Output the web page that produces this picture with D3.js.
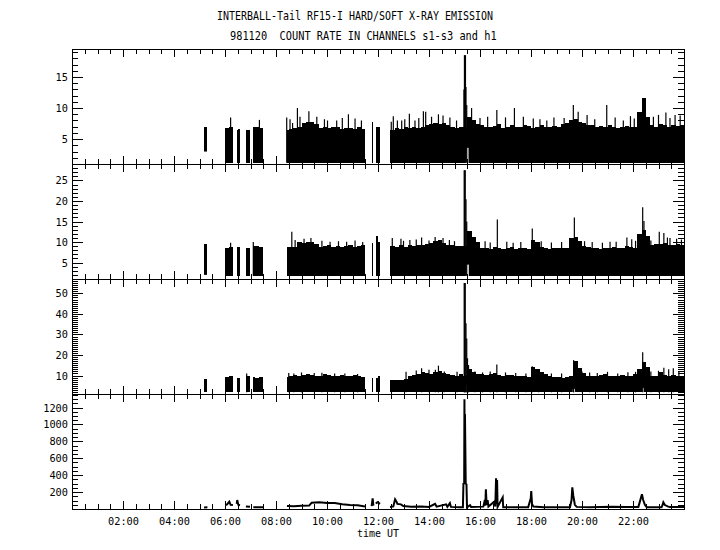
<!DOCTYPE html>
<html>
<head>
<meta charset="utf-8">
<script src="https://cdn.jsdelivr.net/npm/d3@7"></script>
<style>
body { margin: 0; background: #fff; }
svg { display: block; }
text { font-family: "DejaVu Sans Mono", monospace; fill: #000; white-space: pre; }
</style>
</head>
<body>
<svg id="chart" width="720" height="550"></svg>
<script>
// ---- data ----
var titleLines = ["INTERBALL-Tail RF15-I HARD/SOFT X-RAY EMISSION",
                  "981120  COUNT RATE IN CHANNELS s1-s3 and h1"];
var xLabel = "time UT";
var hourTicks = [0, 2, 4, 6, 8, 10, 12, 14, 16, 18, 20, 22, 24];

// hours with telemetry (same for all channels)
var segments = [[5.18, 5.31], [6.01, 6.31], [6.46, 6.59], [6.82, 6.98], [7.11, 7.49],
                [8.43, 11.49], [11.75, 11.82], [11.91, 12.08], [12.47, 24]];

// upper envelope in 10 minute bins, first bin starts at 05:00 (one row = one hour)
var s1Hi = [
  null, 6.9, null, null, null, null,
  6.8, 7.0, 6.5, 6.6, 6.7, 6.5,
  7.0, 7.0, 6.8, null, null, null,
  null, null, 6.5, 6.6, 6.8, 7.0,
  7.6, 7.8, 7.8, 7.4, 6.8, 7.0,
  6.8, 6.9, 7.0, 6.6, 6.8, 6.8,
  6.6, 6.9, 6.7, null, 7.8, 6.9,
  6.9, null, 6.5, 6.5, 6.8, 6.7,
  6.9, 6.8, 7.0, 6.8, 7.0, 7.2,
  7.5, 7.6, 7.4, 7.6, 7.2, 7.0,
  6.8, 6.9, 7.0, 8.5, 8.0, 7.5,
  7.3, 7.0, 6.9, 7.1, 7.4, 6.8,
  7.0, 7.2, 6.9, 7.0, 7.3, 7.1,
  6.8, 7.0, 7.2, 6.9, 7.0, 7.1,
  6.9, 7.4, 7.6, 8.0, 8.2, 7.8,
  7.6, 7.3, 7.2, 7.0, 7.1, 6.9,
  7.3, 7.0, 6.8, 7.0, 7.1, 6.9,
  7.0, 9.4, 11.6, 8.5, 7.2, 7.0,
  7.4, 7.2, 7.0, 7.3, 7.1, 7.2
];
var s2Hi = [
  null, 9.5, null, null, null, null,
  8.5, 8.7, 8.7, 8.7, 8.5, 8.5,
  9.0, 9.0, 8.8, null, null, null,
  null, null, 8.9, 8.9, 8.9, 10.0,
  9.8, 10.1, 9.9, 9.6, 8.8, 9.0,
  9.3, 8.9, 9.0, 8.7, 9.1, 9.2,
  8.8, 9.0, 9.3, null, 9.7, 11.5,
  10.0, null, 9.0, 9.0, 8.8, 9.2,
  8.9, 9.3, 9.0, 9.2, 9.4, 9.5,
  9.8, 10.2, 10.4, 9.8, 9.4, 9.2,
  9.0, 9.1, 9.0, 12.7, 11.3, 10.1,
  8.5, 8.6, 8.4, 8.8, 8.6, 8.3,
  8.5, 8.7, 8.4, 8.6, 8.5, 8.3,
  10.5, 10.0, 8.7, 8.5, 8.4, 8.6,
  8.5, 8.5, 8.6, 11.0, 11.3, 10.2,
  9.0, 8.7, 8.6, 8.5, 8.4, 8.6,
  8.5, 8.8, 8.6, 8.5, 9.0, 8.7,
  8.6, 12.0, 13.0, 11.5, 9.3, 9.6,
  9.5, 9.8, 9.4, 9.2, 9.5, 9.3
];
var s3Hi = [
  null, 8.3, null, null, null, null,
  9.4, 9.6, 9.0, 9.0, 10.6, 10.0,
  9.4, 9.0, 9.2, null, null, null,
  null, null, 9.5, 9.8, 10.2, 10.0,
  10.4, 10.6, 10.2, 10.0, 9.8, 10.5,
  10.1, 9.7, 10.0, 10.2, 9.6, 9.9,
  10.1, 9.8, 9.5, null, 8.6, 8.6,
  9.8, null, 7.8, 7.8, 8.0, 7.8,
  8.2, 10.0, 10.2, 10.5, 11.5, 11.0,
  10.5, 11.8, 12.0, 11.2, 10.5, 10.2,
  10.0, 10.5, 10.0, 13.0, 11.9, 10.8,
  10.5, 10.2, 10.8, 11.0, 10.3, 10.0,
  10.4, 10.2, 9.8, 10.0, 9.6, 9.5,
  14.3, 13.0, 11.5, 10.8, 9.6, 9.4,
  9.2, 9.0, 9.5, 10.0, 17.0, 13.5,
  11.0, 10.0, 9.8, 9.6, 10.2, 10.5,
  10.0, 9.6, 9.8, 10.1, 9.7, 10.0,
  10.8, 13.0, 16.7, 14.0, 9.6, 10.0,
  11.5, 10.2, 9.8, 10.4, 9.6, 9.4
];

// single high samples [hour, count rate]
var s1Spikes = [[6.22, 8.5], [7.35, 8.1], [8.42, 8.5], [8.55, 8.2], [8.65, 7.6], [8.84, 10.0],
  [8.94, 8.6], [9.29, 9.5], [9.6, 8.6], [9.9, 8.2], [10.02, 8.0], [10.38, 8.0], [10.6, 8.4],
  [10.84, 9.0], [11.1, 8.3], [11.35, 8.0], [12.52, 7.8], [12.6, 8.7], [12.76, 8.0], [12.93, 8.0],
  [13.05, 8.2], [13.23, 9.1], [13.45, 8.0], [13.6, 8.4], [13.78, 9.5], [13.87, 9.4], [14.1, 8.6],
  [14.37, 9.0], [14.55, 8.8], [14.82, 8.5], [15.08, 8.0],
  [15.37, 13.0], [15.39, 18.5], [15.41, 18.5], [15.43, 18.5], [15.45, 13.4], [15.48, 10.5],
  [15.67, 10.0], [16.0, 8.4], [16.3, 8.6], [16.66, 9.7], [17.0, 8.5], [17.35, 10.0], [17.7, 8.6],
  [18.09, 8.3], [18.35, 8.2], [18.62, 8.0], [18.9, 8.5], [19.3, 8.4], [19.66, 10.5], [19.85, 9.4],
  [20.2, 8.9], [20.5, 8.2], [20.97, 10.5], [21.3, 8.5], [21.62, 8.0], [21.9, 8.7], [22.05, 8.3],
  [22.8, 8.6], [23.0, 8.9], [23.29, 9.3], [23.45, 8.4], [23.65, 8.9], [23.85, 8.8]];
var s2Spikes = [[6.22, 9.8], [7.11, 10.0], [8.62, 12.5], [8.75, 10.5], [9.1, 10.8], [9.37, 11.0],
  [9.8, 10.3], [10.12, 10.1], [10.45, 10.2], [10.77, 10.1], [11.1, 10.4], [11.4, 10.0],
  [12.56, 11.0], [12.9, 10.8], [13.0, 10.3], [13.25, 10.5], [13.5, 10.6], [13.71, 11.1],
  [14.0, 10.4], [14.24, 11.2], [14.55, 11.0], [14.8, 10.5], [15.0, 10.2],
  [15.38, 27.5], [15.40, 27.5], [15.42, 27.5], [15.45, 20.4], [15.48, 15.0],
  [15.9, 10.0], [16.2, 10.2], [16.4, 9.9], [16.68, 15.5], [17.05, 10.1], [17.3, 9.8], [17.6, 10.0],
  [18.05, 13.3], [18.4, 10.2], [18.8, 9.9], [19.2, 10.0], [19.70, 16.0], [20.1, 10.2], [20.4, 10.0],
  [20.8, 9.8], [21.1, 10.1], [21.34, 10.1], [21.76, 11.1], [21.95, 10.7], [22.1, 10.3],
  [22.38, 18.5], [22.43, 15.1], [22.7, 10.4], [23.03, 12.5], [23.21, 12.2], [23.35, 11.1],
  [23.45, 11.0], [23.71, 10.8], [23.9, 10.6]];
var s3Spikes = [[6.85, 11.0], [8.5, 11.2], [8.7, 11.0], [9.0, 11.5], [9.5, 11.2], [9.8, 11.3],
  [10.3, 11.0], [10.7, 11.0], [11.2, 10.8], [13.1, 11.8], [13.5, 12.5], [13.71, 13.5], [14.0, 12.8],
  [14.25, 12.8], [14.37, 14.8], [14.6, 12.0], [15.1, 11.8],
  [15.38, 55.0], [15.40, 55.0], [15.42, 55.0], [15.45, 35.4], [15.48, 28.0],
  [15.51, 18.4], [15.55, 15.1], [15.8, 12.0], [16.1, 11.5], [16.4, 12.0], [16.66, 15.4],
  [17.0, 11.5], [17.4, 11.2], [17.8, 11.0], [18.05, 14.5], [18.3, 12.0], [18.8, 11.0], [19.2, 11.0],
  [19.67, 17.5], [20.0, 12.0], [20.3, 11.5], [20.6, 11.2], [21.0, 11.8], [21.4, 11.0], [21.8, 11.6],
  [22.1, 11.8], [22.38, 21.3], [22.7, 12.0], [23.0, 12.3], [23.21, 13.8], [23.4, 13.0],
  [23.58, 13.5], [23.8, 12.0]];

// lowest count rate in the band, and intervals where the floor lifts [from, to, value]
var s1Lo = 1.2, s2Lo = 1.8, s3Lo = 1.8;
var s1Raise = [[5.17, 5.33, 3.0], [15.44, 15.55, 3.6]];
var s2Raise = [[5.17, 5.33, 2.0], [15.44, 15.56, 4.5]];
var s3Raise = [[5.17, 5.33, 1.5], [15.44, 15.53, 5.5], [19.64, 19.72, 3.5], [22.36, 22.42, 4.0]];

// hard channel h1, [hour, count rate], null = data gap
var h1Points = [
  [5.18, 18], [5.31, 20], null,
  [6.01, 45], [6.08, 55], [6.17, 87], [6.22, 50], [6.31, 48], null,
  [6.46, 60], [6.48, 106], [6.52, 50], [6.59, 45], null,
  [6.82, 30], [6.98, 28], null,
  [7.11, 20], [7.3, 22], [7.49, 20], null,
  [8.43, 35], [8.7, 32], [9.0, 38], [9.3, 40], [9.4, 75], [9.7, 80], [10.0, 72], [10.3, 70],
  [10.6, 55], [10.9, 48], [11.2, 45], [11.49, 30], null,
  [11.75, 35], [11.79, 126], [11.82, 40], null,
  [11.91, 65], [11.98, 80], [12.08, 60], null,
  [12.47, 25], [12.6, 30], [12.67, 114], [12.72, 90], [12.76, 60], [12.9, 55], [12.99, 35],
  [13.3, 28], [13.7, 30], [14.0, 25], [14.24, 60], [14.3, 28], [14.67, 55], [14.72, 25],
  [14.82, 70], [14.86, 25], [15.22, 22], [15.33, 22],
  [15.35, 300], [15.38, 305], [15.39, 1297], [15.40, 420], [15.41, 1123], [15.44, 300],
  [15.47, 290], [15.49, 20],
  [15.61, 45], [15.65, 25], [16.13, 28], [16.19, 106], [16.21, 40], [16.23, 233], [16.26, 50],
  [16.30, 106], [16.33, 30], [16.56, 87], [16.6, 30], [16.63, 363], [16.65, 60], [16.67, 343],
  [16.69, 25], [16.89, 138], [16.91, 20], [17.5, 22], [17.89, 20], [17.99, 126], [18.01, 213],
  [18.04, 60], [18.09, 30], [18.5, 22], [19.0, 20], [19.53, 22], [19.59, 106], [19.62, 256],
  [19.66, 154], [19.72, 50], [19.79, 25], [20.3, 20], [20.71, 25], [21.2, 28], [21.75, 25],
  [22.21, 25], [22.27, 87], [22.35, 174], [22.40, 106], [22.47, 47], [22.54, 22], [23.12, 20],
  [23.16, 47], [23.19, 79], [23.25, 47], [23.38, 28], [23.45, 25], [24.0, 25]
];

// y axes
var s1Domain = [1, 19.5], s1Major = [5, 10, 15];
var s2Domain = [1, 29],   s2Major = [5, 10, 15, 20, 25];
var s3Domain = [1, 57],   s3Major = [10, 20, 30, 40, 50];
var h1Domain = [0, 1360], h1Major = [200, 400, 600, 800, 1000, 1200];

// ---- layout ----
var left = 72, right = 684;
var panelTop = [49, 164, 279, 394], panelH = 115;
var binStart = 5, binWidth = 1 / 6;

var svg = d3.select("#chart");
svg.append("rect").attr("width", 720).attr("height", 550).attr("fill", "#fff");

var x = d3.scaleLinear().domain([0, 24]).range([left, right]);

var panels = [
  {hi: s1Hi, spikes: s1Spikes, lo: s1Lo, raise: s1Raise, domain: s1Domain, major: s1Major, minor: 1},
  {hi: s2Hi, spikes: s2Spikes, lo: s2Lo, raise: s2Raise, domain: s2Domain, major: s2Major, minor: 1},
  {hi: s3Hi, spikes: s3Spikes, lo: s3Lo, raise: s3Raise, domain: s3Domain, major: s3Major, minor: 1},
  {line: h1Points, domain: h1Domain, major: h1Major, minor: 50}
];

function condense(sel, w) {
  sel.attr("textLength", function() { return this.textContent.length * w; })
     .attr("lengthAdjust", "spacingAndGlyphs");
}

panels.forEach(function(p, i) {
  var top = panelTop[i], bottom = top + panelH;
  var y = d3.scaleLinear().domain(p.domain).range([bottom, top]);
  var g = svg.append("g");

  var clipId = "clip" + i;
  svg.append("clipPath").attr("id", clipId)
     .append("rect").attr("x", left).attr("y", top).attr("width", right - left).attr("height", panelH);
  var plot = g.append("g").attr("clip-path", "url(#" + clipId + ")");

  if (p.hi) {
    // split every bin at the data gaps
    var pieces = [];
    p.hi.forEach(function(v, k) {
      if (v == null) return;
      var b0 = binStart + k * binWidth, b1 = b0 + binWidth;
      segments.forEach(function(s) {
        var a = Math.max(b0, s[0]), b = Math.min(b1, s[1]);
        if (b > a) pieces.push({t0: a, t1: b, v: v});
      });
    });
    plot.selectAll(".bin").data(pieces).enter().append("rect")
        .attr("class", "bin")
        .attr("x", function(d) { return x(d.t0); })
        .attr("width", function(d) { return x(d.t1) - x(d.t0); })
        .attr("y", function(d) { return y(d.v); })
        .attr("height", function(d) { return y(p.lo) - y(d.v); })
        .attr("fill", "#000")
        .attr("shape-rendering", "crispEdges");

    plot.selectAll(".raise").data(p.raise).enter().append("rect")
        .attr("x", function(d) { return x(d[0]); })
        .attr("width", function(d) { return x(d[1]) - x(d[0]); })
        .attr("y", function(d) { return y(d[2]); })
        .attr("height", function(d) { return bottom - y(d[2]); })
        .attr("fill", "#fff");

    plot.selectAll(".spike").data(p.spikes).enter().append("line")
        .attr("x1", function(d) { return x(d[0]); })
        .attr("x2", function(d) { return x(d[0]); })
        .attr("y1", y(p.lo))
        .attr("y2", function(d) { return y(d[1]); })
        .attr("stroke", "#000").attr("stroke-width", 1.2);
  } else {
    var line = d3.line()
        .defined(function(d) { return d != null; })
        .x(function(d) { return x(d[0]); })
        .y(function(d) { return y(d[1]); });
    plot.append("path").datum(p.line)
        .attr("d", line)
        .attr("fill", "none").attr("stroke", "#000").attr("stroke-width", 2);
  }

  // ticks, all pointing inwards
  var halfHours = d3.range(0, 24.01, 0.5);
  var isLast = i === panels.length - 1;

  g.append("g").attr("transform", "translate(0," + bottom + ")")
   .call(d3.axisBottom(x).tickValues(halfHours).tickSize(-5).tickSizeOuter(0).tickFormat(""));
  g.append("g").attr("transform", "translate(0," + bottom + ")")
   .call(d3.axisBottom(x).tickValues(hourTicks).tickSize(-8).tickSizeOuter(0).tickPadding(8)
     .tickFormat(function(h) { return (isLast && h > 0 && h < 24) ? d3.format("02d")(h) + ":00" : ""; }));
  g.append("g").attr("transform", "translate(0," + top + ")")
   .call(d3.axisTop(x).tickValues(halfHours).tickSize(-5).tickSizeOuter(0).tickFormat(""));
  g.append("g").attr("transform", "translate(0," + top + ")")
   .call(d3.axisTop(x).tickValues(hourTicks).tickSize(-8).tickSizeOuter(0).tickFormat(""));

  var minorTicks = d3.range(p.domain[0], p.domain[1], p.minor).filter(function(v) { return v > p.domain[0]; });
  g.append("g").attr("transform", "translate(" + left + ",0)")
   .call(d3.axisLeft(y).tickValues(minorTicks).tickSize(-6).tickSizeOuter(0).tickFormat(""));
  g.append("g").attr("transform", "translate(" + left + ",0)")
   .call(d3.axisLeft(y).tickValues(p.major).tickSize(-11).tickSizeOuter(0).tickPadding(4)
     .tickFormat(d3.format("d")));
  g.append("g").attr("transform", "translate(" + right + ",0)")
   .call(d3.axisRight(y).tickValues(minorTicks).tickSize(-6).tickSizeOuter(0).tickFormat(""));
  g.append("g").attr("transform", "translate(" + right + ",0)")
   .call(d3.axisRight(y).tickValues(p.major).tickSize(-11).tickSizeOuter(0).tickFormat(""));

  g.selectAll(".domain").remove();
  g.selectAll(".tick line").attr("stroke", "#000").attr("shape-rendering", "crispEdges");
  g.selectAll(".tick text").attr("font-size", 11).attr("font-family", "DejaVu Sans Mono").attr("fill", "#000")
   .call(condense, 6.2);

  g.append("rect")
   .attr("x", left + 0.5).attr("y", top + 0.5)
   .attr("width", right - left).attr("height", panelH)
   .attr("fill", "none").attr("stroke", "#000").attr("stroke-width", 1)
   .attr("shape-rendering", "crispEdges");
});

// titles
svg.append("text").attr("x", 217).attr("y", 20).attr("font-size", 12)
   .text(titleLines[0]).call(condense, 6);
svg.append("text").attr("x", 230).attr("y", 40).attr("font-size", 12)
   .text(titleLines[1]).call(condense, 6.2);
svg.append("text").attr("x", 357).attr("y", 537).attr("font-size", 11)
   .text(xLabel).call(condense, 6);
</script>
</body>
</html>
